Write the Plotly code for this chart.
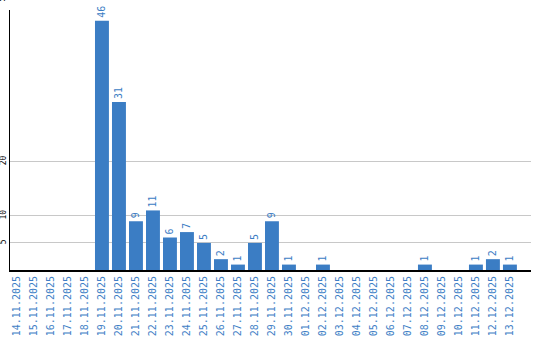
import plotly.graph_objects as go

dates = ["14.11.2025","15.11.2025","16.11.2025","17.11.2025","18.11.2025","19.11.2025",
         "20.11.2025","21.11.2025","22.11.2025","23.11.2025","24.11.2025","25.11.2025",
         "26.11.2025","27.11.2025","28.11.2025","29.11.2025","30.11.2025","01.12.2025",
         "02.12.2025","03.12.2025","04.12.2025","05.12.2025","06.12.2025","07.12.2025",
         "08.12.2025","09.12.2025","10.12.2025","11.12.2025","12.12.2025","13.12.2025"]
values = [0,0,0,0,0,46,31,9,11,6,7,5,2,1,5,9,1,0,1,0,0,0,0,0,1,0,0,1,2,1]
y_ticks = [5, 10, 20]
top_tick = 50

BLUE = "#3b7dc4"
FONT = "DejaVu Sans Mono"

labels = [str(v) if v else "" for v in values]

fig = go.Figure(go.Bar(
    x=list(range(len(dates))), y=values, text=labels,
    textposition="outside", textangle=-90,
    textfont=dict(family=FONT, size=10, color=BLUE),
    marker=dict(color=BLUE, line=dict(width=0)),
    width=0.82, cliponaxis=False,
))

ymax = 48
fig.update_layout(
    width=540, height=340,
    margin=dict(l=10, r=9, t=10, b=70),
    paper_bgcolor="white", plot_bgcolor="white",
    showlegend=False,
    xaxis=dict(
        range=[-0.41, 30.24],
        tickmode="array", tickvals=list(range(len(dates))), ticktext=dates,
        tickangle=-90, tickfont=dict(family=FONT, size=10, color="#3f7fc6"),
        showgrid=False, showline=True, linecolor="black", linewidth=2,
        ticks="", automargin=False, zeroline=False,
    ),
    yaxis=dict(
        range=[0, ymax],
        tickmode="array", tickvals=y_ticks, ticktext=[str(t) for t in y_ticks],
        tickangle=-90, tickfont=dict(family=FONT, size=8, color="black"),
        showgrid=True, gridcolor="#c8c8c8", gridwidth=1,
        showline=True, linecolor="black", linewidth=1,
        ticks="", automargin=False, zeroline=False,
    ),
)
# top tick label (50) lies just above the plot area and is mostly cut off
fig.add_annotation(
    xref="paper", yref="paper", x=0, y=(260 + 6) / 260, xanchor="right", yanchor="bottom",
    xshift=-2, text=str(top_tick), showarrow=False, textangle=-90,
    font=dict(family=FONT, size=8, color="black"),
)

fig.write_html("out.html")
